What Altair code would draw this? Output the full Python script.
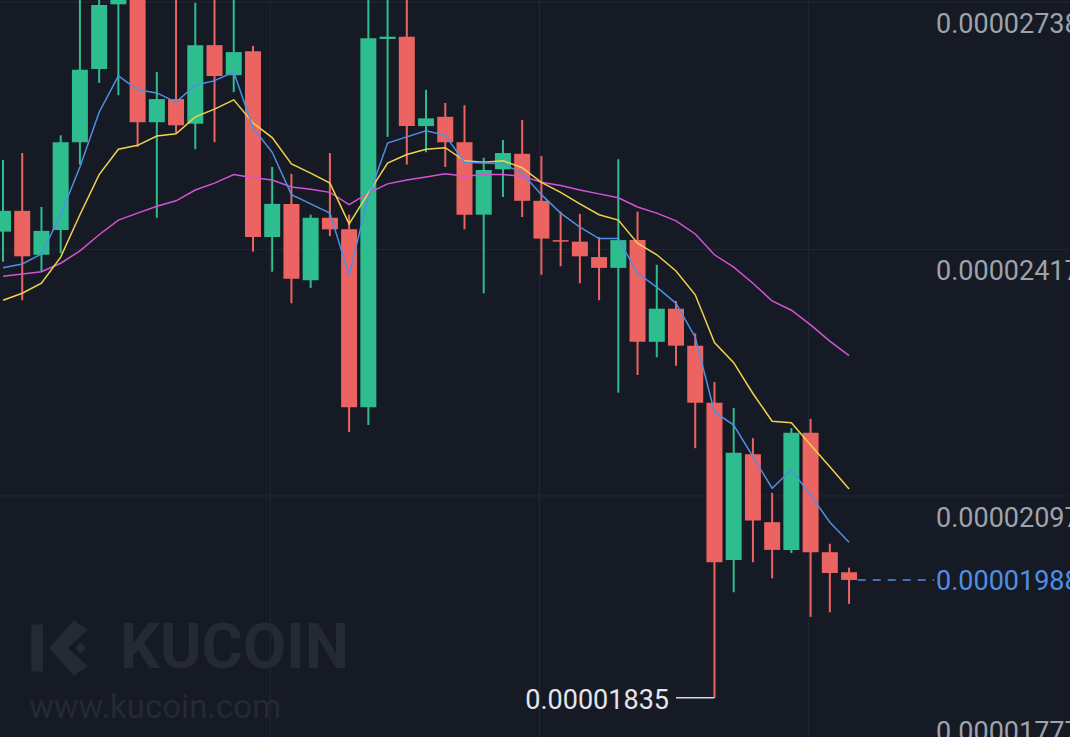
import altair as alt
import pandas as pd

# ---- candle data (price in units of 1e-8) ----
opens  = [2440, 2467, 2410, 2442, 2556, 2651, 2735, 2756, 2582, 2612,
          2580, 2682, 2643, 2674, 2433, 2476, 2377, 2458, 2443, 2212,
          2690, 2693, 2577, 2589, 2556, 2462, 2521, 2541, 2480, 2429,
          2427, 2407, 2393, 2429, 2297, 2340, 2292, 2218, 2014, 2151,
          2063, 2027, 2179, 2024, 1998]
highs  = [2533, 2542, 2472, 2565, 2747, 2767, 2793, 2773, 2647, 2754,
          2737, 2760, 2751, 2681, 2524, 2515, 2462, 2542, 2462, 2760,
          2754, 2747, 2624, 2607, 2604, 2536, 2559, 2585, 2538, 2466,
          2463, 2433, 2534, 2466, 2397, 2350, 2308, 2245, 2211, 2172,
          2101, 2185, 2197, 2035, 2004]
lows   = [2401, 2351, 2388, 2412, 2527, 2633, 2617, 2550, 2458, 2568,
          2547, 2556, 2621, 2414, 2388, 2347, 2367, 2434, 2180, 2189,
          2563, 2527, 2543, 2524, 2443, 2360, 2485, 2459, 2384, 2395,
          2373, 2351, 2231, 2254, 2277, 2266, 2159, 1835, 1972, 2011,
          1990, 2023, 1940, 1946, 1957]
closes = [2467, 2408, 2441, 2556, 2650, 2734, 2756, 2582, 2612, 2578,
          2682, 2642, 2673, 2433, 2476, 2379, 2458, 2443, 2212, 2691,
          2693, 2577, 2587, 2556, 2462, 2520, 2542, 2480, 2431, 2427,
          2408, 2393, 2429, 2297, 2340, 2292, 2218, 2011, 2153, 2065,
          2027, 2179, 2024, 1997, 1988]

# ---- moving averages ----
ma_blue = [2393, 2398, 2411, 2462, 2524, 2595, 2642, 2624, 2620, 2608,
           2630, 2636, 2647, 2575, 2543, 2488, 2476, 2464, 2384, 2485,
           2555, 2563, 2571, 2565, 2530, 2529, 2528, 2516, 2488, 2464,
           2446, 2431, 2431, 2386, 2368, 2347, 2303, 2206, 2189, 2148,
           2107, 2131, 2098, 2063, 2037]
ma_yellow = [2351, 2360, 2373, 2407, 2462, 2514, 2547, 2552, 2564, 2567,
             2589, 2599, 2611, 2581, 2562, 2528, 2516, 2503, 2450, 2490,
             2529, 2540, 2547, 2549, 2532, 2530, 2532, 2523, 2504, 2491,
             2476, 2462, 2455, 2425, 2410, 2389, 2358, 2296, 2270, 2230,
             2194, 2192, 2163, 2135, 2106]
ma_magenta = [2382, 2385, 2388, 2399, 2415, 2436, 2455, 2464, 2473, 2480,
              2494, 2503, 2514, 2510, 2507, 2498, 2495, 2491, 2475, 2490,
              2502, 2507, 2511, 2515, 2512, 2514, 2514, 2512, 2504, 2500,
              2494, 2489, 2484, 2472, 2464, 2454, 2437, 2410, 2394, 2373,
              2350, 2338, 2319, 2298, 2279]

y_ticks = [2738, 2417, 2097]
y_tick_bottom = [1777]
x_grid = [13.9, 27.9, 41.9]
last_price = 1988

# ---- styles ----
BG = "#161a25"
GRID = "#232734"
UP = "#2ebd8f"
DOWN = "#ec6461"
LABEL = "#9ea3ab"
BLUE = "#4f8fe3"
YELLOW = "#f2d24a"
MAGENTA = "#d552d8"
WM = "#242935"
FONT = "Roboto"
W, H = 1070, 737

def fmt(v):
    return f"0.{v:08d}"

n = len(opens)
df = pd.DataFrame({"i": list(range(n)), "open": opens, "high": highs,
                   "low": lows, "close": closes})
df["dir"] = ["up" if c >= o else "down" for o, c in zip(opens, closes)]

xs = alt.Scale(domain=[-0.156, 55.49], nice=False, zero=False, padding=0)
ys = alt.Scale(domain=[1784.2, 2740.6], nice=False, zero=False, padding=0)
col = alt.Color("dir:N", scale=alt.Scale(domain=["up", "down"], range=[UP, DOWN]), legend=None)

# grid
hgrid = alt.Chart(pd.DataFrame({"v": y_ticks + y_tick_bottom})).mark_rule(
    color=GRID, strokeWidth=1).encode(
    y=alt.Y("v:Q", scale=ys, axis=None), x=alt.value(0), x2=alt.value(W))
vgrid = alt.Chart(pd.DataFrame({"g": x_grid})).mark_rule(
    color=GRID, strokeWidth=1).encode(
    x=alt.X("g:Q", scale=xs, axis=None), y=alt.value(0), y2=alt.value(H))

# watermark
logo_path = ("M-1,-0.72 L-0.64,-0.72 L-0.64,0.72 L-1,0.72 Z "
             "M-0.45,0 L0.3,-0.85 L0.72,-0.55 L0.12,0 L0.72,0.55 L0.3,0.85 Z "
             "M0.5,-0.17 L0.67,0 L0.5,0.17 L0.33,0 Z")
wm_icon = alt.Chart(pd.DataFrame({"t": ["logo"]})).mark_point(
    shape=logo_path, filled=True, size=4300, color=WM, opacity=1, strokeWidth=0).encode(
    x=alt.value(64), y=alt.value(648))
wm_text = alt.Chart(pd.DataFrame({"t": ["KUCOIN"]})).mark_text(
    font=FONT, fontSize=63, fontWeight="bold", color=WM, align="left",
    baseline="alphabetic").encode(x=alt.value(120), y=alt.value(668), text="t:N")
wm_url = alt.Chart(pd.DataFrame({"t": ["www.kucoin.com"]})).mark_text(
    font=FONT, fontSize=33, color=WM, align="left",
    baseline="alphabetic").encode(x=alt.value(29), y=alt.value(718), text="t:N")

# candles
base = alt.Chart(df)
wicks = base.mark_rule(strokeWidth=2, clip=True).encode(
    x=alt.X("i:Q", scale=xs, axis=None),
    y=alt.Y("low:Q", scale=ys, axis=None), y2="high:Q", color=col)
bodies = base.mark_bar(size=16, clip=True).encode(
    x=alt.X("i:Q", scale=xs, axis=None),
    y=alt.Y("open:Q", scale=ys, axis=None), y2="close:Q", color=col)

# moving averages
ma_df = pd.DataFrame({"i": list(range(n)), "b": ma_blue, "yl": ma_yellow, "m": ma_magenta})
def ma_line(field, color):
    return alt.Chart(ma_df).mark_line(color=color, strokeWidth=1.5, clip=True).encode(
        x=alt.X("i:Q", scale=xs, axis=None), y=alt.Y(f"{field}:Q", scale=ys, axis=None))
lines = ma_line("m", MAGENTA) + ma_line("yl", YELLOW) + ma_line("b", BLUE)

# axis labels (right side)
lab_df = pd.DataFrame({"v": y_ticks, "label": [fmt(v) for v in y_ticks]})
labels = alt.Chart(lab_df).mark_text(
    font=FONT, fontSize=27, color=LABEL, align="left", baseline="alphabetic", dy=31).encode(
    x=alt.value(936), y=alt.Y("v:Q", scale=ys), text="label:N")
lab_b = pd.DataFrame({"v": y_tick_bottom, "label": [fmt(v) for v in y_tick_bottom]})
labels_b = alt.Chart(lab_b).mark_text(
    font=FONT, fontSize=27, color=LABEL, align="left", baseline="alphabetic", dy=-2).encode(
    x=alt.value(936), y=alt.Y("v:Q", scale=ys), text="label:N")

# current price line + label
cp_df = pd.DataFrame({"v": [last_price], "x0": [n - 1 + 0.45], "label": [fmt(last_price)]})
cp_line = alt.Chart(cp_df).mark_rule(color=BLUE, strokeWidth=1.5, strokeDash=[8, 7]).encode(
    x=alt.X("x0:Q", scale=xs), x2=alt.value(934), y=alt.Y("v:Q", scale=ys))
cp_text = alt.Chart(cp_df).mark_text(
    font=FONT, fontSize=27, color=BLUE, align="left", baseline="alphabetic", dy=10).encode(
    x=alt.value(936), y=alt.Y("v:Q", scale=ys), text="label:N")

# lowest price marker
imin = lows.index(min(lows))
mn_df = pd.DataFrame({"v": [min(lows)], "xa": [imin - 2.0], "xb": [imin], "label": [fmt(min(lows))]})
mn_line = alt.Chart(mn_df).mark_rule(color="#d6d9df", strokeWidth=1.5).encode(
    x=alt.X("xa:Q", scale=xs), x2="xb:Q", y=alt.Y("v:Q", scale=ys))
mn_text = alt.Chart(mn_df).mark_text(
    font=FONT, fontSize=27, color="#e4e6eb", align="right", baseline="alphabetic",
    dx=-7, dy=11).encode(
    x=alt.X("xa:Q", scale=xs), y=alt.Y("v:Q", scale=ys), text="label:N")

chart = alt.layer(
    hgrid, vgrid, wm_icon, wm_text, wm_url, wicks, bodies, lines,
    cp_line, mn_line, labels, labels_b, cp_text, mn_text
).properties(
    width=W, height=H, background=BG, padding=0,
    autosize=alt.AutoSizeParams(type="none")
).configure_view(stroke=None)

chart.save("out.html", embed_options={"renderer": "svg", "actions": False})
